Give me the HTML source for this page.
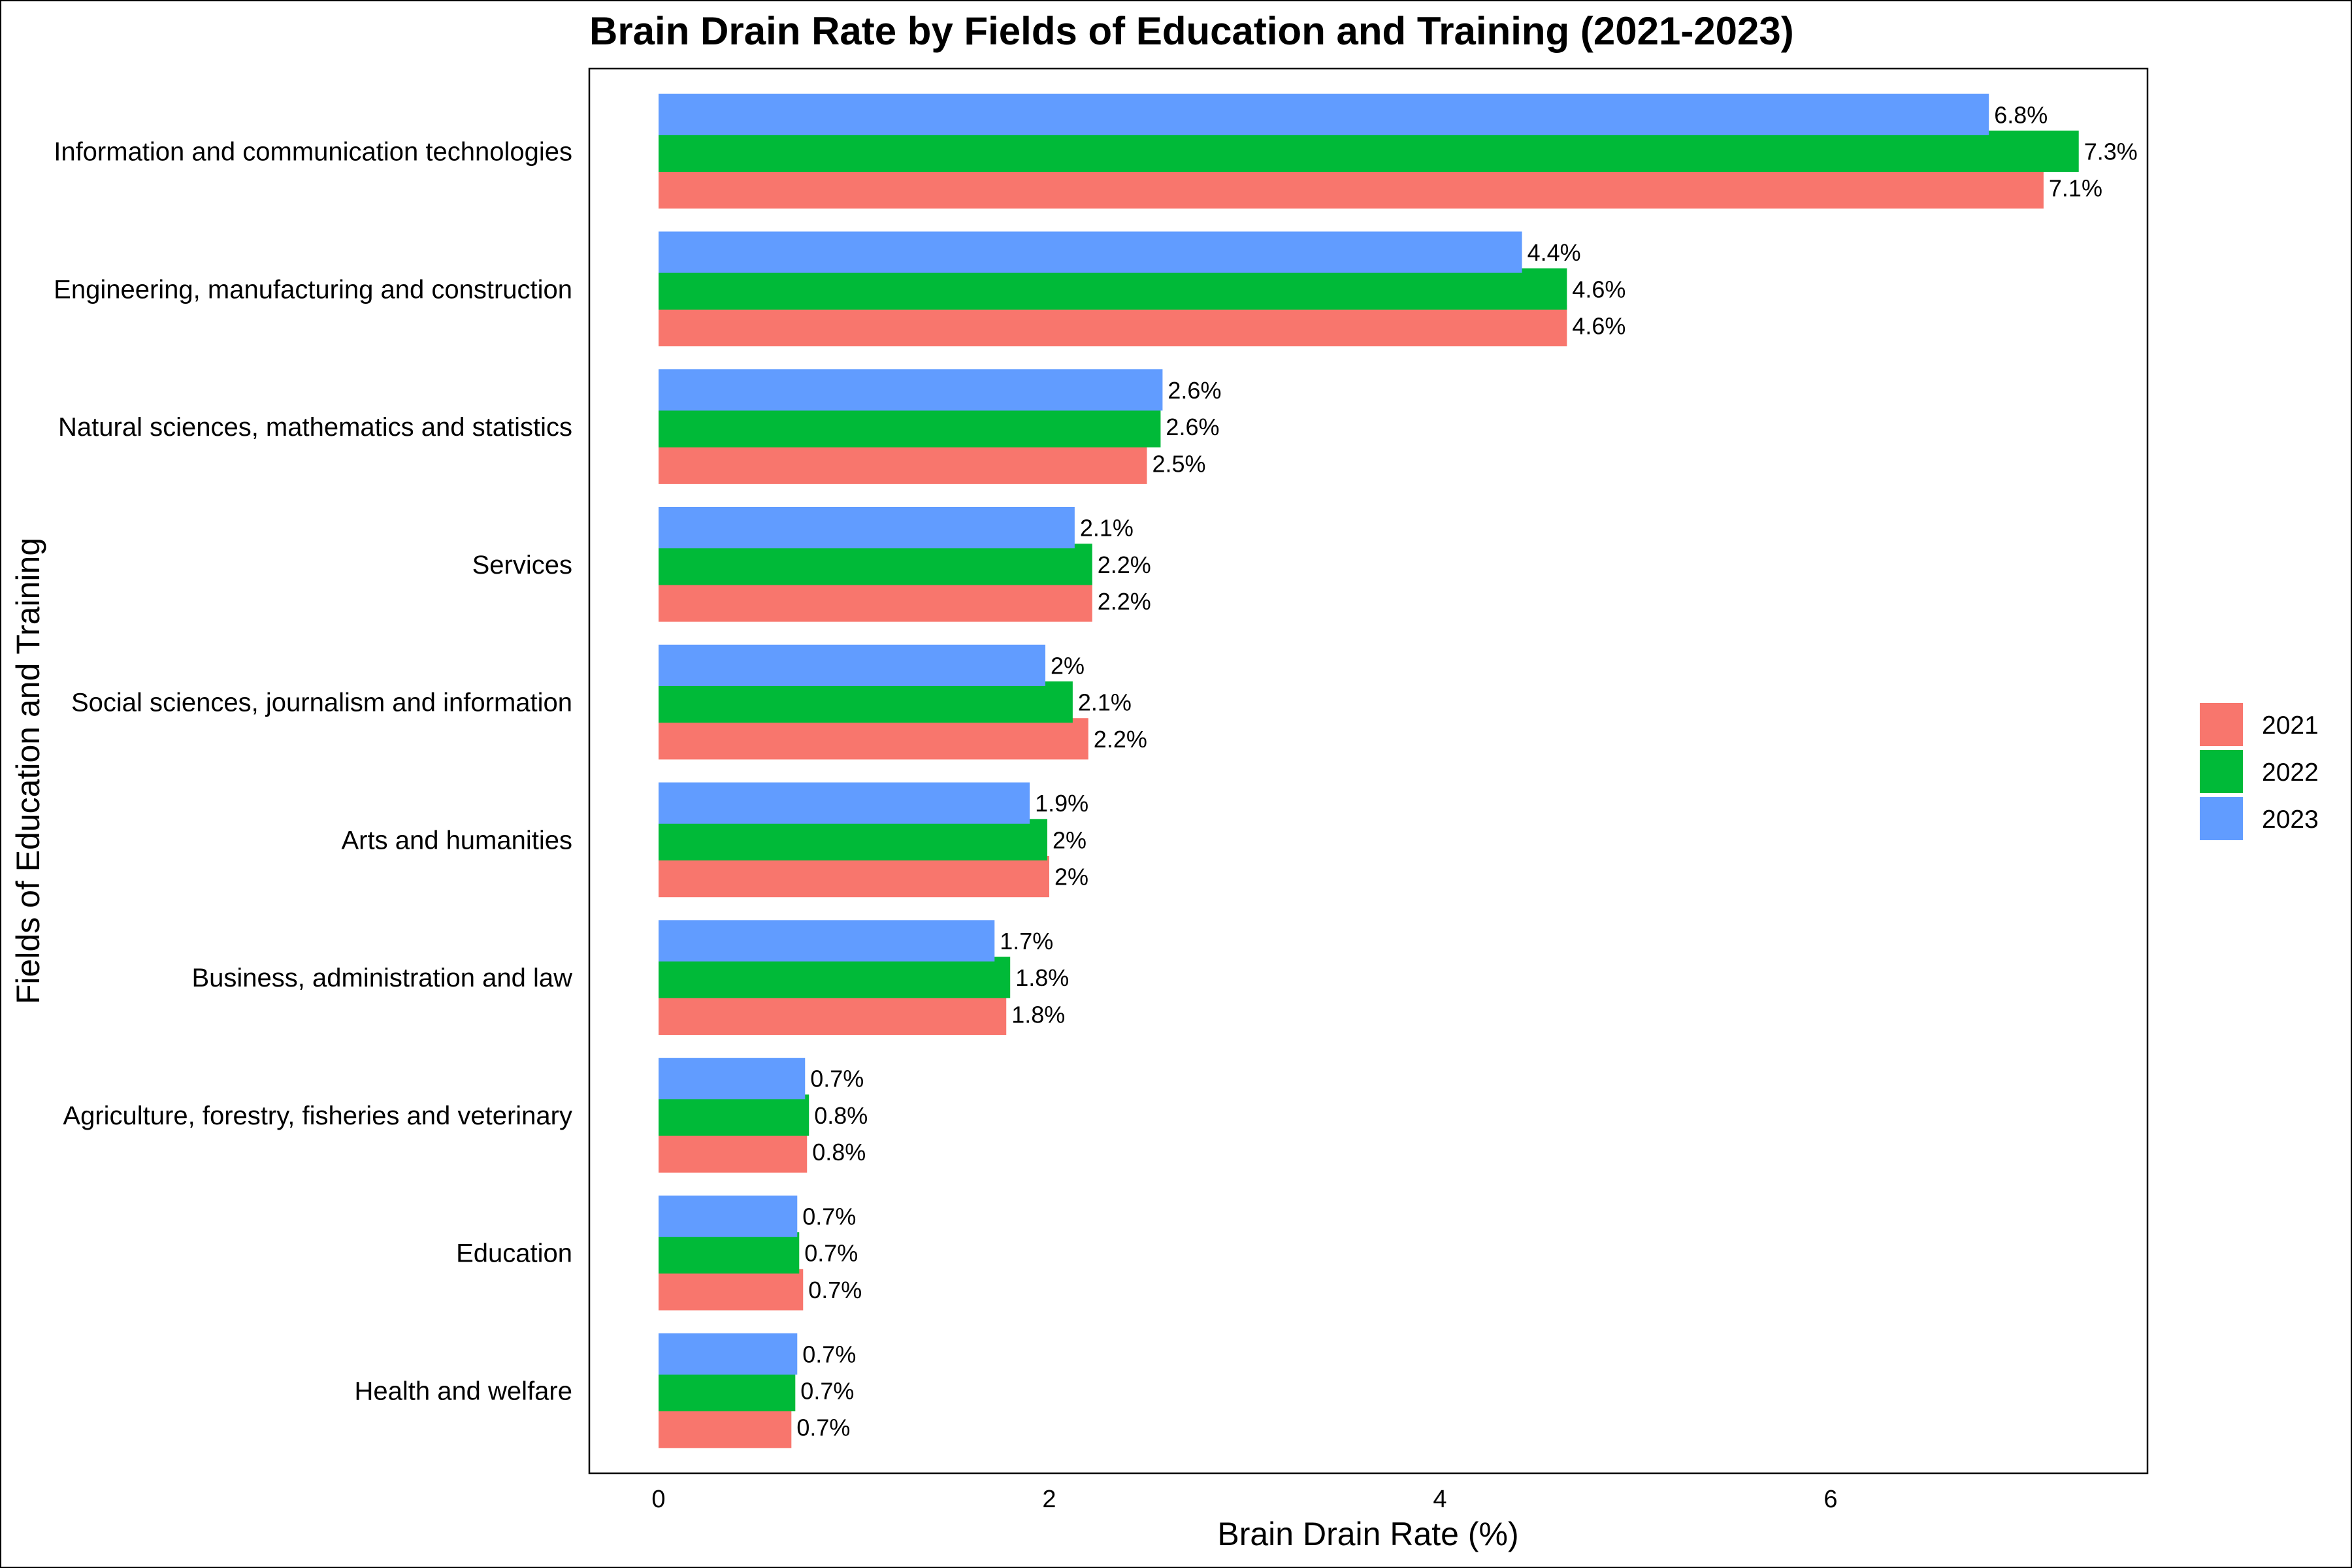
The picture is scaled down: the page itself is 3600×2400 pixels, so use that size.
<!DOCTYPE html>
<html><head><meta charset="utf-8"><style>
html,body{margin:0;padding:0;background:#fff}
svg{display:block;font-family:"Liberation Sans",Arial,sans-serif}
</style></head><body>
<svg id="chart" width="3600" height="2400" viewBox="0 0 3600 2400" xmlns="http://www.w3.org/2000/svg">
<rect x="1" y="1" width="3598" height="2398" fill="#fff" stroke="#000" stroke-width="2"/>
<text x="902" y="68" font-size="60" font-weight="bold">Brain Drain Rate by Fields of Education and Training (2021-2023)</text>
<rect x="902" y="105" width="2385" height="2150" fill="#fff" stroke="#000" stroke-width="2.5"/>
<g id="bars"></g>
<g id="labels"></g>
<g id="yaxis"></g>
<g id="xaxis"></g>
<text x="2094" y="2365" font-size="50" text-anchor="middle">Brain Drain Rate (%)</text>
<text transform="translate(60,1180) rotate(-90)" font-size="50" text-anchor="middle">Fields of Education and Training</text>
<g id="legend"></g>
</svg>
<script>
const categories = ["Information and communication technologies","Engineering, manufacturing and construction","Natural sciences, mathematics and statistics","Services","Social sciences, journalism and information","Arts and humanities","Business, administration and law","Agriculture, forestry, fisheries and veterinary","Education","Health and welfare"];
const series2021 = [7.09,4.65,2.5,2.22,2.2,2.0,1.78,0.76,0.74,0.68];
const series2022 = [7.27,4.65,2.57,2.22,2.12,1.99,1.8,0.77,0.72,0.7];
const series2023 = [6.81,4.42,2.58,2.13,1.98,1.9,1.72,0.75,0.71,0.71];
const labels2021 = ["7.1%","4.6%","2.5%","2.2%","2.2%","2%","1.8%","0.8%","0.7%","0.7%"];
const labels2022 = ["7.3%","4.6%","2.6%","2.2%","2.1%","2%","1.8%","0.8%","0.7%","0.7%"];
const labels2023 = ["6.8%","4.4%","2.6%","2.1%","2%","1.9%","1.7%","0.7%","0.7%","0.7%"];
const xTicks = [0,2,4,6];
const years = ["2021","2022","2023"];
const colors = ["#F8766D","#00BA38","#619CFF"];

const NS="http://www.w3.org/2000/svg";
const X0=1008, XS=299, PT=105, PH=2150;
const unit=PH/10.2;
function xScale(v){return X0+v*XS;}
function yCenter(i){return PT+(0.6+i)*unit;}
function mk(tag,attrs,parent,txt){const e=document.createElementNS(NS,tag);for(const k in attrs)e.setAttribute(k,attrs[k]);if(txt!==undefined)e.textContent=txt;parent.appendChild(e);return e;}
const bars=document.getElementById('bars'), labs=document.getElementById('labels');
const allSeries=[series2021,series2022,series2023], allLabels=[labels2021,labels2022,labels2023];
const dodge=0.2667*unit, bh=0.3*unit;
for(let s=0;s<=2;s++){
  const off=(s===0?1:(s===1?0:-1))*dodge;
  categories.forEach((c,i)=>{
    const yc=yCenter(i)+off;
    const r=mk('rect',{x:xScale(0),y:yc-bh/2,width:xScale(allSeries[s][i])-xScale(0),height:bh,fill:colors[s]},bars);
    
    
    const t=mk('text',{x:xScale(allSeries[s][i])+8,y:yc+13,'font-size':36},labs,allLabels[s][i]);
    
    
  });
}
const ya=document.getElementById('yaxis');
categories.forEach((c,i)=>{
  const t=mk('text',{x:876,y:yCenter(i)+14,'font-size':40,'text-anchor':'end'},ya,c);
  
  
});
const xa=document.getElementById('xaxis');
xTicks.forEach(v=>{
  const t=mk('text',{x:xScale(v),y:2307,'font-size':38,'text-anchor':'middle'},xa,String(v));
  
  
});
const lg=document.getElementById('legend');
years.forEach((y,k)=>{
  const r=mk('rect',{x:3367,y:1076+k*72,width:66,height:66,fill:colors[k]},lg);
  
  
  const t=mk('text',{x:3462,y:1109+k*72+14,'font-size':39},lg,y);
  
  
});
</script>
</body></html>
